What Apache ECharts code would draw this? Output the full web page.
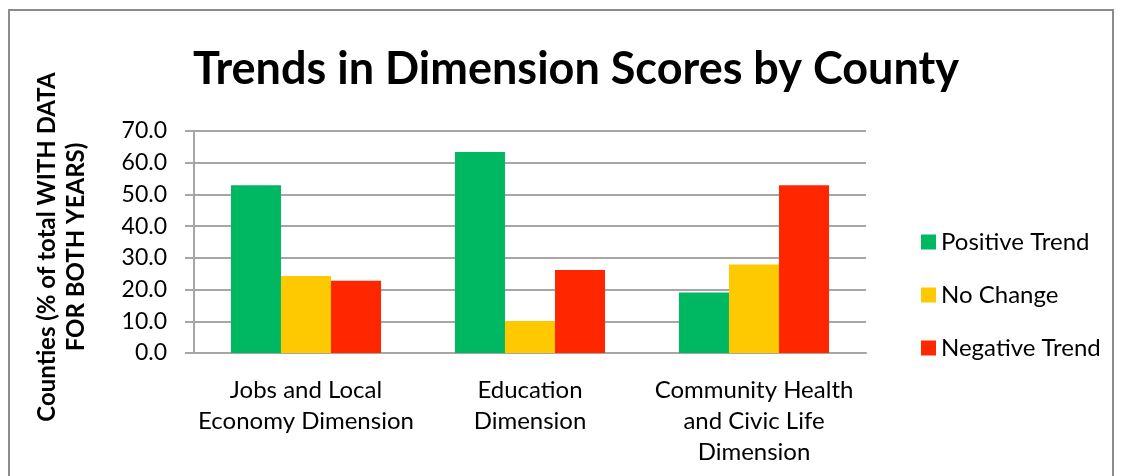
<!DOCTYPE html>
<html>
<head>
<meta charset="utf-8">
<script src="https://cdn.jsdelivr.net/npm/echarts@6/dist/echarts.min.js"></script>
<style>
  html, body { margin: 0; padding: 0; background: #fff; }
  #chart { width: 1124px; height: 476px; }
</style>
</head>
<body>
<div id="chart"></div>
<script>
// Share of counties (with data for both years) by trend direction, per dimension
const categories = [
  'Jobs and Local\nEconomy Dimension',
  'Education\nDimension',
  'Community Health\nand Civic Life\nDimension'
];
const positiveTrend = [52.9, 63.4, 19.1];
const noChange = [24.3, 10.1, 27.9];
const negativeTrend = [22.8, 26.2, 52.9];
const yTicks = { min: 0, max: 70, interval: 10 };

const FONT = 'Lato, "DejaVu Sans", sans-serif';
const GRID_GRAY = '#a6a6a6';

const chart = echarts.init(document.getElementById('chart'), null, { renderer: 'canvas' });

function barSeries(name, data, color) {
  return {
    name: name,
    type: 'bar',
    data: data,
    barGap: '0%',
    barCategoryGap: '33%',
    itemStyle: { color: color },
    emphasis: { disabled: true }
  };
}

chart.setOption({
  animation: false,
  backgroundColor: '#ffffff',
  title: {
    text: 'Trends in Dimension Scores by County',
    left: 571,
    top: 42,
    textAlign: 'center',
    textStyle: { fontFamily: FONT, fontWeight: 'bold', fontSize: 45, color: '#000' }
  },
  grid: { left: 194, right: 258, top: 131, bottom: 123, containLabel: false },
  legend: {
    orient: 'vertical',
    left: 916,
    top: 225,
    itemWidth: 15,
    itemHeight: 15,
    itemGap: 29,
    icon: 'rect',
    data: ['Positive Trend', 'No Change', 'Negative Trend'],
    textStyle: { fontFamily: FONT, fontSize: 24, color: '#000', lineHeight: 24 }
  },
  xAxis: {
    type: 'category',
    data: categories,
    axisLine: { lineStyle: { color: GRID_GRAY, width: 2 } },
    axisTick: { show: false },
    axisLabel: {
      margin: 22,
      fontFamily: FONT,
      fontSize: 24,
      lineHeight: 31,
      color: '#000',
      interval: 0
    }
  },
  yAxis: {
    type: 'value',
    min: yTicks.min,
    max: yTicks.max,
    interval: yTicks.interval,
    axisLine: { show: true, lineStyle: { color: GRID_GRAY, width: 2 } },
    axisTick: { show: true, length: 9, lineStyle: { color: GRID_GRAY, width: 2 } },
    splitLine: { lineStyle: { color: GRID_GRAY, width: 2 } },
    axisLabel: {
      margin: 27,
      fontFamily: FONT,
      fontSize: 23,
      color: '#000',
      formatter: v => v.toFixed(1)
    }
  },
  graphic: [
    {
      type: 'rect',
      shape: { x: 9, y: 10, width: 1104, height: 500 },
      style: { fill: 'none', stroke: '#8c8c8c', lineWidth: 2 },
      silent: true
    },
    {
      type: 'text',
      x: 62,
      y: 247,
      rotation: Math.PI / 2,
      style: {
        text: 'Counties (% of total WITH DATA\nFOR BOTH YEARS)',
        fontFamily: FONT,
        fontWeight: 'bold',
        fontSize: 24,
        lineHeight: 29,
        fill: '#000',
        align: 'center',
        verticalAlign: 'middle'
      },
      silent: true
    }
  ],
  series: [
    barSeries('Positive Trend', positiveTrend, '#00b861'),
    barSeries('No Change', noChange, '#ffc900'),
    barSeries('Negative Trend', negativeTrend, '#ff2600')
  ]
});
</script>
</body>
</html>
